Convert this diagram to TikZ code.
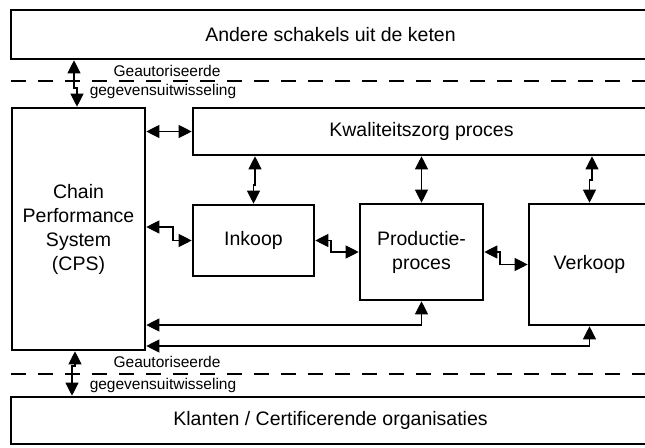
\documentclass[tikz,border=0pt]{standalone}
\usepackage{fontspec}
\setmainfont{Liberation Sans}
\usetikzlibrary{arrows.meta}
\begin{document}
\begin{tikzpicture}[x=1pt, y=-1pt,
blok/.style = {draw, rectangle, line width=2.6pt, align=center, inner sep=0pt, font=\fontsize{19.5}{24}\selectfont},
link/.style = {{Triangle[length=13pt,width=13pt]}-{Triangle[length=13pt,width=13pt]}, line width=1.1pt},
note/.style = {inner sep=0pt, font=\fontsize{15.5}{17}\selectfont},
grens/.style = {dash pattern=on 15pt off 12pt, line width=1.3pt}]
\useasboundingbox (0,0) rectangle (645,447);

\node[blok, minimum width=639pt, minimum height=49pt] (keten) at (330.5,34.5) {Andere schakels uit de keten};
\node[blok, minimum width=133pt, minimum height=242pt] (cps) at (78.5,229) {Chain\\Performance\\System\\(CPS)};
\node[blok, minimum width=457pt, minimum height=47pt] (kwal) at (421.5,131.5) {Kwaliteitszorg proces};
\node[blok, minimum width=121pt, minimum height=71pt] (inkoop) at (253.5,240.5) {Inkoop};
\node[blok, minimum width=123pt, minimum height=96pt] (prod) at (421.5,252) {Productie-\\proces};
\node[blok, minimum width=121pt, minimum height=121pt] (verkoop) at (589.5,264.5) {Verkoop};
\node[blok, minimum width=639pt, minimum height=47pt] (klanten) at (330.5,420.5) {Klanten / Certificerende organisaties};

% grenzen
\draw[grens] (11,81) -- (650,81);
\draw[grens] (11,374) -- (650,374);
\node[note] (gtop) at (167,71) {Geautoriseerde};
\node[note] (wtop) at (163,91) {gegevensuitwisseling};
\node[note] (gbot) at (167,362) {Geautoriseerde};
\node[note] (wbot) at (163,385) {gegevensuitwisseling};

% uitwisseling
\draw[link] (keten.south -| 74,0) |- (77,88) -- (cps.north -| 77,0);
\draw[link] (cps.south -| 75,0) |- (72,366) -- (klanten.north -| 72,0);

% koppelingen
\draw[link] (cps.east |- kwal.west) -- (kwal.west);
\draw[link] (cps.east |- 0,227) -| (173,233) |- (inkoop.west);
\draw[link] (inkoop.east) -| (331,246) |- (prod.west);
\draw[link] (prod.east) -| (500,258) |- (verkoop.west);
\draw[link] (kwal.south -| 255,0) |- (253.5,185) -- (inkoop.north);
\draw[link] (kwal.south) -- (prod.north);
\draw[link] (kwal.south -| 592,0) |- (589.5,180) -- (verkoop.north);
\draw[link] (cps.east |- 0,325) -| (prod.south);
\draw[link] (cps.east |- 0,346) -| (verkoop.south);
\end{tikzpicture}
\end{document}
